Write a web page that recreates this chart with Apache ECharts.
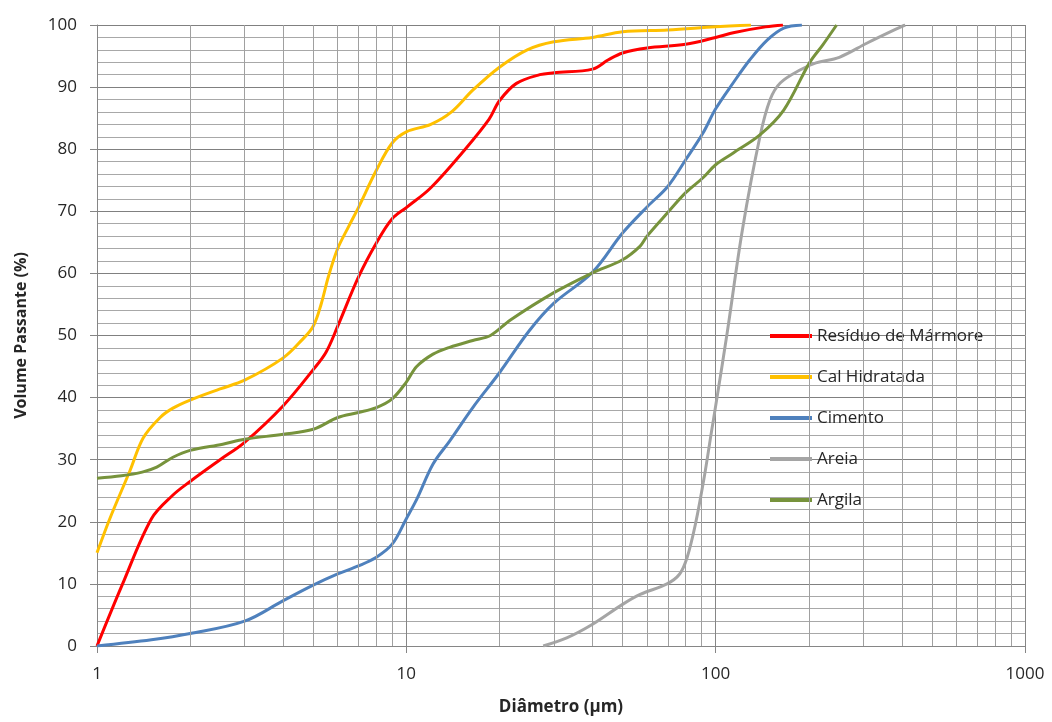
<!DOCTYPE html>
<html>
<head>
<meta charset="utf-8">
<script src="https://cdn.jsdelivr.net/npm/echarts@6/dist/echarts.min.js"></script>
<style>
html,body{margin:0;padding:0;background:#fff;}
#chart{width:1052px;height:722px;}
</style>
</head>
<body>
<div id="chart"></div>
<script>
// ---- data (diameter µm, % passing) ----
const seriesNames = ['Resíduo de Mármore', 'Cal Hidratada', 'Cimento', 'Areia', 'Argila'];

const residuo = [[1,0],[1.21,10],[1.5,20.5],[1.75,24.2],[2,26.5],[2.5,30],[3,32.8],[4,38.7],[5,44.5],[5.5,47.3],[6,51.5],[7,59.4],[8,64.9],[9,68.8],[10,70.6],[12,73.8],[15.5,80],[18.5,84.8],[20,87.8],[22.7,90.6],[27,92],[30,92.3],[40,92.9],[45,94.4],[50,95.5],[60,96.3],[80,96.9],[100,98],[115,98.8],[145,99.7],[165,100]];

const calHidratada = [[1,15],[1.1,20.5],[1.28,28.3],[1.41,33.5],[1.6,36.8],[1.76,38.3],[2,39.6],[2.5,41.4],[3,42.8],[4,46.4],[4.6,49.3],[5,51.5],[5.3,55],[5.6,59.5],[6,64],[6.5,67.5],[7,70.6],[8,76.6],[9,81],[10,82.8],[12,84],[14,86],[16.4,89.5],[20,93.2],[24.6,96],[30,97.3],[40,98],[50,98.9],[70,99.2],[100,99.7],[130,100]];

const cimento = [[1,0],[1.5,1],[2,2],[3,4],[4,7.3],[5,9.8],[6,11.6],[7,12.9],[8,14.3],[9,16.4],[10,20.5],[10.8,23.6],[12.2,29.3],[13.8,33],[16.4,38.4],[20,44],[25,50.8],[30,55.2],[40,60.2],[50,66.5],[60,70.7],[70,74],[80,78.3],[91,82.6],[100,86.5],[114,90.7],[129,94.4],[147,97.6],[166,99.5],[190,100]];

const areia = [[27.7,0],[33,1.3],[40,3.5],[50,6.7],[57,8.3],[69.6,10],[76.5,11.6],[80.8,14.2],[86,19.6],[91.7,27],[97,34.6],[101,40],[109,50.5],[122,67],[139,82],[150,88],[162,90.7],[188,92.8],[211,93.9],[251,94.8],[309,97.1],[397,99.7],[410,100]];

const argila = [[1,27],[1.2,27.4],[1.4,28],[1.56,28.8],[1.76,30.4],[2,31.5],[2.55,32.5],[3,33.3],[4,34.1],[5,34.9],[6,36.8],[7,37.6],[8,38.4],[9,39.8],[10,42.5],[10.8,45],[12.2,47],[13.8,48.1],[16.4,49.2],[18.7,50],[21.7,52.5],[30,56.9],[40,60.1],[50,62.2],[57,64.4],[60,66],[70,69.8],[80,73],[91,75.4],[100,77.5],[114,79.4],[139,82.3],[166,86.3],[201,93.9],[222,96.8],[246,100]];

const seriesData = [residuo, calHidratada, cimento, areia, argila];
const seriesColors = ['#ff0000', '#ffc000', '#4f81bd', '#a5a5a5', '#77933c'];

// minor log grid values (2..9 in each decade)
const minorXGrid = [2,3,4,5,6,7,8,9,20,30,40,50,60,70,80,90,200,300,400,500,600,700,800,900];

const FONT = '"Open Sans", Lato, sans-serif';

const chart = echarts.init(document.getElementById('chart'), null, {renderer: 'canvas'});

const series = seriesNames.map((name, i) => ({
  name: name,
  type: 'line',
  data: seriesData[i],
  smooth: 0.35,
  symbol: 'none',
  z: 3,
  lineStyle: {width: 3, color: seriesColors[i]},
  itemStyle: {color: seriesColors[i]}
}));

series.push({
  name: '__grid',
  type: 'line',
  data: [],
  z: 1,
  silent: true,
  markLine: {
    silent: true,
    symbol: 'none',
    animation: false,
    label: {show: false},
    lineStyle: {color: '#a0a0a0', width: 1, type: 'solid'},
    emphasis: {disabled: true},
    data: minorXGrid.map(v => ({xAxis: v}))
  }
});

chart.setOption({
  animation: false,
  backgroundColor: '#ffffff',
  grid: {left: 97, right: 27, top: 25, bottom: 76, containLabel: false},
  legend: {
    data: seriesNames,
    orient: 'vertical',
    left: 765,
    top: 321,
    icon: 'rect',
    itemWidth: 42,
    itemHeight: 4,
    itemGap: 21,
    textStyle: {fontFamily: FONT, fontSize: 17, lineHeight: 20, color: '#262626'}
  },
  xAxis: {
    type: 'log',
    logBase: 10,
    min: 1,
    max: 1000,
    name: 'Diâmetro (µm)',
    nameLocation: 'middle',
    nameGap: 53,
    nameTextStyle: {fontFamily: FONT, fontSize: 17, fontWeight: 'bold', color: '#262626'},
    axisLine: {show: true, lineStyle: {color: '#868686', width: 1}},
    axisTick: {show: true, length: 7, lineStyle: {color: '#868686'}},
    axisLabel: {fontFamily: FONT, fontSize: 17, color: '#262626', margin: 20, formatter: v => String(v)},
    splitLine: {show: true, lineStyle: {color: '#868686', width: 1}},
    minorTick: {show: false},
    minorSplitLine: {show: false}
  },
  yAxis: {
    type: 'value',
    min: 0,
    max: 100,
    interval: 10,
    name: 'Volume Passante (%)',
    nameLocation: 'middle',
    nameGap: 68,
    nameTextStyle: {fontFamily: FONT, fontSize: 16, fontWeight: 'bold', color: '#262626'},
    axisLine: {show: true, lineStyle: {color: '#868686', width: 1}},
    axisTick: {show: true, length: 7, lineStyle: {color: '#868686'}},
    axisLabel: {fontFamily: FONT, fontSize: 17, color: '#262626', margin: 20},
    splitLine: {show: true, lineStyle: {color: '#808080', width: 1}},
    minorTick: {show: false, splitNumber: 5},
    minorSplitLine: {show: true, lineStyle: {color: '#a8a8a8', width: 1}}
  },
  series: series
});
</script>
</body>
</html>
